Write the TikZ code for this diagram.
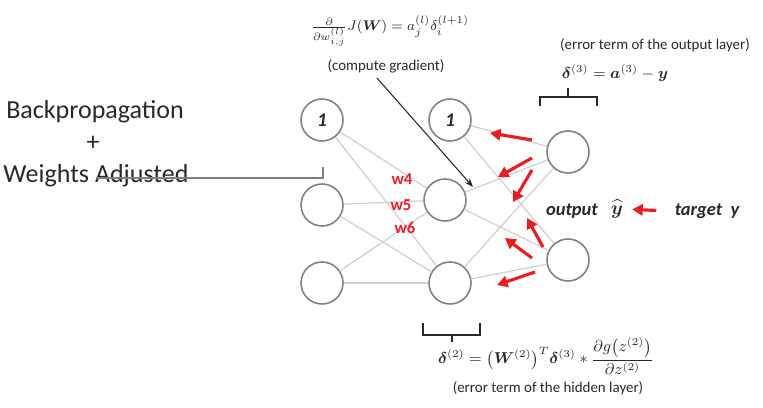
\documentclass[tikz,border=0pt]{standalone}
\usepackage{amsmath,bm}
\usepackage{fontspec}
\setmainfont{Carlito}
\usetikzlibrary{arrows.meta, positioning, calc}
\definecolor{nnGray}{RGB}{128,128,128}
\definecolor{nnEdge}{RGB}{208,208,208}
\definecolor{nnRed}{RGB}{236,28,36}
\definecolor{nnText}{RGB}{40,40,40}

\begin{document}
\begin{tikzpicture}[x=0.02cm, y=-0.02cm,
    neuron/.style={circle, draw=nnGray, line width=0.9pt, minimum size=0.84cm, inner sep=0pt,
      font=\fontsize{11}{12}\selectfont\bfseries\itshape, text=nnText},
    edge/.style={nnEdge, line width=0.7pt},
    push/.style={nnRed, line width=1.8pt, -{Triangle[length=6pt, width=6.5pt]}},
    brace/.style={nnText, line width=0.6pt},
    note/.style={text=nnText, font=\fontsize{8.5}{9}\selectfont},
    wlabel/.style={text=nnRed, font=\fontsize{9.5}{10}\selectfont\bfseries},
    big/.style={text=nnText, font=\fontsize{14.8}{17}\selectfont}]
  \useasboundingbox (0,0) rectangle (763,408);

  % input layer
  \node[neuron] (i0) at (322,120) {1};
  \node[neuron] (i1) at (322,205) {};
  \node[neuron] (i2) at (322,283) {};
  % hidden layer
  \node[neuron] (h0) at (450,120) {1};
  \node[neuron] (h1) at (445,200) {};
  \node[neuron] (h2) at (450,283) {};
  % output layer
  \node[neuron] (o1) at (568,152) {};
  \node[neuron] (o2) at (568,260) {};

  % weights
  \foreach \a in {i0,i1,i2} {
    \foreach \b in {h1,h2} \draw[edge] (\a) -- (\b);
  }
  \foreach \a in {h0,h1,h2} {
    \foreach \b in {o1,o2} \draw[edge] (\a) -- (\b);
  }
  \node[wlabel] (w4) at (402,179) {w4};
  \node[wlabel] (w5) at (401,205) {w5};
  \node[wlabel] (w6) at (405,228) {w6};

  % error signals going back
  \foreach \x/\y/\u/\v in {532/140/490/133, 532/158/498/177, 532/170/513/202,
                           543/247/527/218, 532/258/505/238, 535/272/497/285} {
    \draw[push] (\x,\y) -- (\u,\v);
  }

  % left text
  \node[big] (bp) at (95,112) {Backpropagation};
  \node[big] (plus) at (93,143) {+};
  \node[big] (wa) at (96,176) {Weights Adjusted};
  \coordinate (wl) at (96,178);
  \coordinate (wt) at (323,167);
  \draw[nnGray, line width=0.6pt] (wl) -| (wt);

  % gradient
  \node[note] (grad) at (390,31) {$\frac{\partial}{\partial w_{i,j}^{(l)}} J(\bm{W}) = a_j^{(l)}\delta_i^{(l+1)}$};
  \node[note] (cg) at (386,66) {(compute gradient)};
  \coordinate (gs) at (377,78);
  \coordinate (ge) at (473,187);
  \draw[black!85, line width=0.6pt, -{Stealth[length=5pt]}] (gs) -- (ge);

  % output error
  \node[note] (eo) at (655,45) {(error term of the output layer)};
  \node[text=nnText, font=\fontsize{9}{10}\selectfont] (d3) at (615,73) {$\bm{\delta}^{(3)} = \bm{a}^{(3)} - \bm{y}$};
  \draw[brace] (540,106) -- (540,97) -- (597,97) -- (597,106);
  \draw[brace] (568,97) -- (568,88);

  % hidden error
  \draw[brace] (423,323) -- (423,335) -- (480,335) -- (480,323);
  \draw[brace] (452,335) -- (452,342);
  \node[text=nnText, font=\fontsize{9}{11}\selectfont] (d2) at (546,356)
    {$\bm{\delta}^{(2)} = \bigl(\bm{W}^{(2)}\bigr)^T\bm{\delta}^{(3)} \ast \dfrac{\partial g\bigl(z^{(2)}\bigr)}{\partial z^{(2)}}$};
  \node[note] (eh) at (548,388) {(error term of the hidden layer)};

  % prediction vs target
  \node[text=nnText, inner sep=1pt, font=\fontsize{10.5}{12}\selectfont\bfseries\itshape] (out) at (572,211) {output};
  \node[text=nnText, inner sep=0pt, font=\fontsize{10.5}{12}\selectfont] (yh) at (617,209) {$\widehat{\bm{y}}$};
  \node[text=nnText, font=\fontsize{10.5}{12}\selectfont\bfseries\itshape] (tg) at (707,211) {target~~y};
  \draw[push, shorten <=7pt, shorten >=5pt] (tg.west) -- (yh.east);
\end{tikzpicture}
\end{document}
